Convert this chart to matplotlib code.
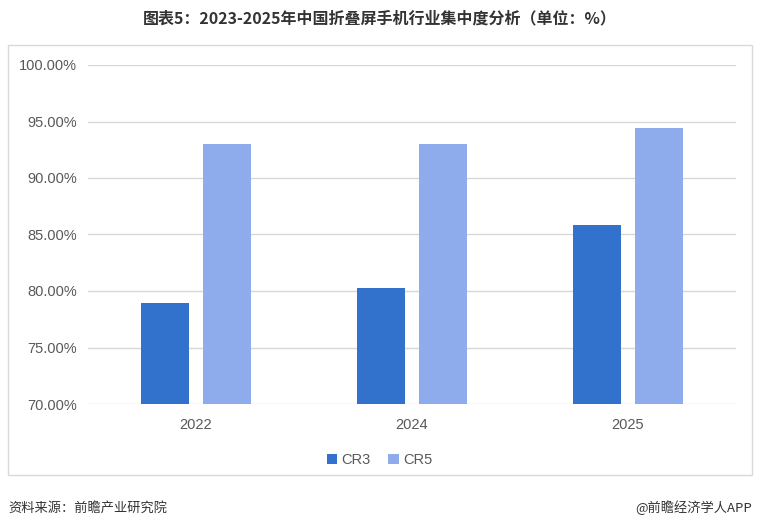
import matplotlib

matplotlib.use("Agg")
import matplotlib.pyplot as plt
import numpy as np
from matplotlib.patches import Rectangle
from matplotlib.ticker import FuncFormatter

plt.rcParams["font.family"] = ["Noto Sans CJK SC", "DejaVu Sans"]

years = ["2022", "2024", "2025"]
cr3 = [78.9, 80.3, 85.8]
cr5 = [93.0, 93.0, 94.4]
series_names = ["CR3", "CR5"]
yticks = [70, 75, 80, 85, 90, 95, 100]

C_CR3 = "#3272CC"
C_CR5 = "#8EABEC"

fig = plt.figure(figsize=(7.6, 5.3), dpi=100)
fig.patch.set_facecolor("white")

# light frame around the chart area
fig.patches.append(Rectangle((8 / 760, 1 - 475 / 530), 744 / 760, 430 / 530,
                             transform=fig.transFigure, fill=False,
                             edgecolor="#D9D9D9", linewidth=1.0))

ax = fig.add_axes([88 / 760, 1 - 404 / 530, 648 / 760, 339 / 530])
x = np.arange(len(years))
w = 0.222
ax.bar(x - 0.142, np.array(cr3) - 70, w, bottom=70, color=C_CR3, label=series_names[0], zorder=3)
ax.bar(x + 0.142, np.array(cr5) - 70, w, bottom=70, color=C_CR5, label=series_names[1], zorder=3)

ax.set_xlim(-0.5, len(years) - 0.5)
ax.set_ylim(70, 100)
ax.set_yticks(yticks)
ax.yaxis.set_major_formatter(FuncFormatter(lambda v, _: f"{v:.2f}%"))
ax.set_xticks(x)
ax.set_xticklabels(years)
ax.grid(axis="y", color="#D9D9D9", linewidth=1.0, zorder=0)
for s in ax.spines.values():
    s.set_visible(False)
ax.tick_params(length=0, labelsize=10.5, colors="#595959", pad=8)
ax.tick_params(axis="x", pad=10)
for lab in ax.get_xticklabels() + ax.get_yticklabels():
    lab.set_family(["Liberation Sans", "DejaVu Sans"])

ax.legend(loc="center", bbox_to_anchor=(0.45, -0.165), ncol=2, frameon=False,
          handlelength=0.7, handleheight=0.7, handletextpad=0.3, columnspacing=1.2,
          prop={"family": ["Liberation Sans", "DejaVu Sans"], "size": 10.5},
          labelcolor="#595959")

fig.text(0.5, 1 - 18 / 530, "图表5：2023-2025年中国折叠屏手机行业集中度分析（单位：%）",
         ha="center", va="center", fontsize=11.5, fontweight="bold", color="#333333")
fig.text(8 / 760, 1 - 508 / 530, "资料来源：前瞻产业研究院", ha="left", va="center",
         fontsize=9.5, color="#333333")
fig.text(752 / 760, 1 - 508 / 530, "@前瞻经济学人APP", ha="right", va="center",
         fontsize=9.5, color="#333333")

fig.savefig("out.png", dpi=100, facecolor="white")
